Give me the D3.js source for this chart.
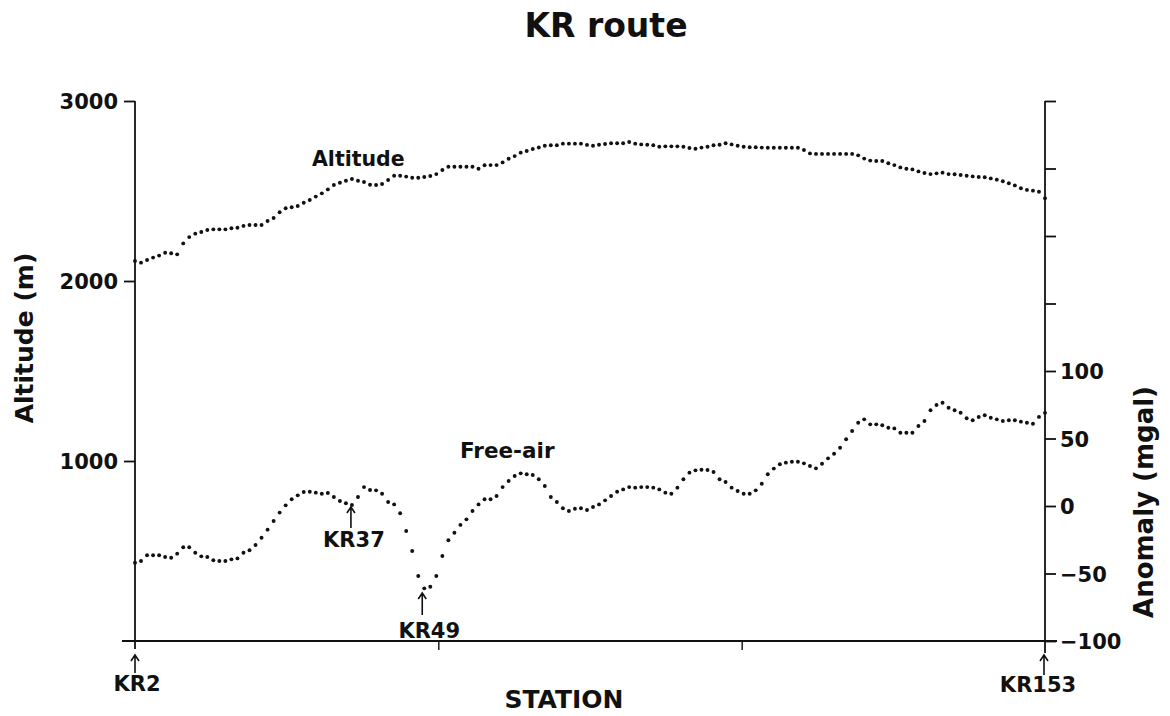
<!DOCTYPE html>
<html>
<head>
<meta charset="utf-8">
<script src="https://cdn.jsdelivr.net/npm/d3@7"></script>
<style>
  html, body { margin: 0; padding: 0; background: #fff; }
  svg { display: block; }
  text { font-family: "DejaVu Sans", "Liberation Sans", sans-serif; font-weight: bold; fill: #111; }
</style>
</head>
<body>
<svg id="chart" width="1170" height="716"></svg>
<script>
// ---------------- DATA ----------------
const title = "KR route";
const firstStation = 2, lastStation = 153;
const stations = d3.range(firstStation, lastStation + 1);   // KR2 ... KR153

// Altitude (m) at each station, KR2 -> KR153
const altitude = [
  2111, 2102, 2117, 2130, 2141, 2157, 2154, 2148,
  2209, 2244, 2263, 2272, 2283, 2287, 2287, 2287, 2293, 2296, 2306, 2311, 2311, 2311, 2333,
  2350, 2382, 2404, 2410, 2417, 2435, 2450, 2469, 2487, 2509, 2533, 2546, 2557, 2567, 2557,
  2550, 2535, 2533, 2539, 2561, 2585, 2585, 2580, 2574, 2574, 2578, 2583, 2594, 2617, 2635,
  2635, 2635, 2635, 2635, 2624, 2643, 2644, 2644, 2659, 2679, 2694, 2713, 2722, 2733, 2742,
  2751, 2754, 2754, 2763, 2763, 2763, 2763, 2756, 2751, 2757, 2761, 2765, 2765, 2765, 2772,
  2763, 2759, 2757, 2754, 2746, 2748, 2748, 2748, 2746, 2739, 2735, 2741, 2746, 2754, 2757,
  2765, 2759, 2751, 2746, 2743, 2743, 2741, 2740, 2740, 2740, 2740, 2740, 2740, 2728, 2709,
  2706, 2706, 2706, 2706, 2706, 2706, 2706, 2698, 2680, 2669, 2667, 2667, 2654, 2644, 2631,
  2624, 2620, 2609, 2600, 2594, 2598, 2602, 2594, 2593, 2589, 2585, 2581, 2578, 2576, 2570,
  2563, 2554, 2543, 2531, 2515, 2506, 2502, 2496, 2460
];

// Free-air anomaly (mgal) at each station, KR2 -> KR153
const freeAir = [
  -42, -40.7, -36.5, -36.5, -36.5, -37.8, -38.3, -35.3, -30.6, -30.6, -34.6, -37.3, -37.8,
  -40.2, -40.7, -40.7, -39.5, -38.8, -34.6, -32.8, -28.9, -23.5, -17.5, -11.1, -4.9, 0.5,
  5, 7.9, 10.4, 10.6, 9.9, 9.1, 9.6, 6.7, 3.7, 2, 0.7, 6.7, 14, 11.9, 11.6, 9.1, 3, 1.2,
  -5.4, -18.5, -33.3, -51.9, -61, -59.8, -51.9, -37, -25.4,
  -19.8, -14, -9.9, -3.7, 1.2, 5, 5, 7.4, 14, 18.5, 22.2, 24.2, 23.5, 23, 19.8, 14.8, 6.7,
  3, -1.7, -3.7, -2, -1.7, -3, -0.7, 1.2, 4.2, 7.4, 10.6, 12.3, 14, 13.6, 14, 14, 13.6,
  12.3, 9.9, 9.1, 13.6, 19.8, 24.7, 26.4, 26.9, 26.7, 25.2, 19.8, 17.8, 13.6, 11.1, 9.1,
  9.1, 11.6, 16.5, 23.5, 27.7, 30.9, 32.1, 32.8, 32.8,
  31.6, 29.6, 27.9, 31.3, 35.3, 38.7, 43.2, 49.4, 55.6, 61.7, 64.2, 60.5, 60.5, 59.8, 58,
  57.5, 54.3, 54.3, 54.3, 59.3, 63, 70.9, 74.8, 76.5, 72.8, 70.9, 69.1, 65, 63.5, 65.9,
  67.2, 65.4, 64.2, 63, 63.5, 63.5, 62.5, 61.7, 60.9, 66, 69
];

const altitudeTicks = [1000, 2000, 3000];
const anomalyTicks = [-100, -50, 0, 50, 100, 150, 200, 250, 300];
const anomalyLabelMax = 100;
const stationTicks = [52.33, 102.67];          // unlabeled ticks along the route
const altitudeDomain = [0, 3000];
const anomalyDomain = [-100, 300];
const endLabels = ["KR2", "KR153"];
const markedStations = ["KR37", "KR49"];

// ---------------- LAYOUT ----------------
const svg = d3.select("#chart");
const L = 135, R = 1045, T = 101, B = 641;

const x = d3.scaleLinear().domain([firstStation, lastStation]).range([L, R]);
const yA = d3.scaleLinear().domain(altitudeDomain).range([B, T]);
const yF = d3.scaleLinear().domain(anomalyDomain).range([B, T]);

const lineW = 1.8;

// title
svg.append("text").attr("x", 606).attr("y", 37).attr("text-anchor", "middle")
  .style("font-size", "33px").text(title);

// left axis
const gL = svg.append("g").attr("transform", `translate(${L},0)`)
  .call(d3.axisLeft(yA).tickValues(altitudeTicks).tickSize(11).tickSizeOuter(0).tickPadding(6)
    .tickFormat(d3.format("d")));
gL.select(".domain").remove();
gL.selectAll(".tick line").attr("stroke", "#111").attr("stroke-width", lineW);
gL.selectAll(".tick text").style("font-size", "21px").attr("dy", "0.36em")
  .style("font-family", '"DejaVu Sans", sans-serif').style("font-weight", "bold").attr("fill", "#111");
svg.append("line").attr("x1", L).attr("x2", L).attr("y1", T).attr("y2", B + 8)
  .attr("stroke", "#111").attr("stroke-width", lineW);

// right axis
const gR = svg.append("g").attr("transform", `translate(${R},0)`)
  .call(d3.axisRight(yF).tickValues(anomalyTicks).tickSize(11).tickSizeOuter(0).tickPadding(4)
    .tickFormat(d => d <= anomalyLabelMax ? d3.format("d")(d) : ""));
gR.select(".domain").remove();
gR.selectAll(".tick line").attr("stroke", "#111").attr("stroke-width", lineW);
gR.selectAll(".tick text").style("font-size", "21px").attr("dy", "0.36em")
  .style("font-family", '"DejaVu Sans", sans-serif').style("font-weight", "bold").attr("fill", "#111");
svg.append("line").attr("x1", R).attr("x2", R).attr("y1", T).attr("y2", B + 12)
  .attr("stroke", "#111").attr("stroke-width", lineW);

// bottom axis
const gB = svg.append("g").attr("transform", `translate(0,${B})`)
  .call(d3.axisBottom(x).tickValues(stationTicks).tickSize(9).tickSizeOuter(0).tickFormat(""));
gB.select(".domain").remove();
gB.selectAll(".tick line").attr("stroke", "#111").attr("stroke-width", 1.4);
svg.append("line").attr("x1", L - 13).attr("x2", R + 12).attr("y1", B).attr("y2", B)
  .attr("stroke", "#111").attr("stroke-width", lineW);

// axis titles
svg.append("text").attr("transform", "translate(33,338) rotate(-90)").attr("text-anchor", "middle")
  .style("font-size", "25px").text("Altitude (m)");
svg.append("text").attr("transform", "translate(1153,502) rotate(-90)").attr("text-anchor", "middle")
  .style("font-size", "26px").text("Anomaly (mgal)");
svg.append("text").attr("x", 564).attr("y", 708).attr("text-anchor", "middle")
  .style("font-size", "25px").text("STATION");

// data dots
svg.append("g").selectAll("circle").data(altitude).join("circle")
  .attr("cx", (d, i) => x(stations[i])).attr("cy", d => yA(d)).attr("r", 1.95).attr("fill", "#111");
svg.append("g").selectAll("circle").data(freeAir).join("circle")
  .attr("cx", (d, i) => x(stations[i])).attr("cy", d => yF(d)).attr("r", 1.95).attr("fill", "#111");

// series labels
svg.append("text").attr("x", 312).attr("y", 166).style("font-size", "20.5px").text("Altitude");
svg.append("text").attr("x", 460).attr("y", 458).style("font-size", "21.5px").text("Free-air");

// arrows + station labels
function arrow(cx, yTop, yBot) {
  svg.append("path")
    .attr("d", `M${cx},${yBot} L${cx},${yTop} M${cx - 4},${yTop + 6} L${cx},${yTop} L${cx + 4},${yTop + 6}`)
    .attr("fill", "none").attr("stroke", "#111").attr("stroke-width", 1.6);
}
function stationLabel(name, cx, y) {
  svg.append("text").attr("x", cx).attr("y", y).attr("text-anchor", "middle")
    .style("font-size", "21px").text(name);
}
const stNum = s => +s.replace("KR", "");

// end stations
arrow(x(stNum(endLabels[0])), 655, 673);
stationLabel(endLabels[0], x(stNum(endLabels[0])) + 2, 691);
arrow(x(stNum(endLabels[1])) - 1, 655, 675);
stationLabel(endLabels[1], x(stNum(endLabels[1])) - 7, 692);

// marked stations (arrows under the free-air dots)
{
  const s = stNum(markedStations[0]);
  const cx = x(s) + 5;
  arrow(cx, 507, 528);
  stationLabel(markedStations[0], cx + 3, 547);
}
{
  const s = stNum(markedStations[1]);
  const cx = x(s) + 4;
  arrow(cx, 593, 615);
  stationLabel(markedStations[1], cx + 7, 638);
}
</script>
</body>
</html>
